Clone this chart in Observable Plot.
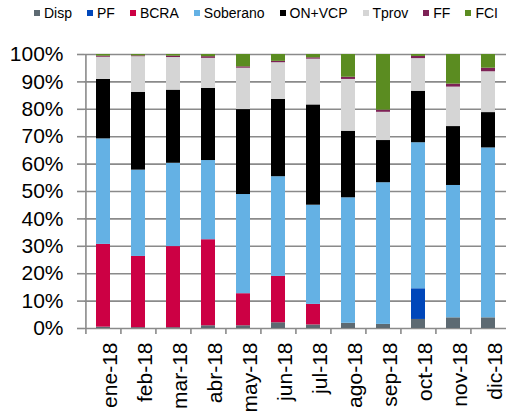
<!DOCTYPE html>
<html>
<head>
<meta charset="utf-8">
<script src="https://cdn.jsdelivr.net/npm/d3@7"></script>
<script src="https://cdn.jsdelivr.net/npm/@observablehq/plot@0.6"></script>
<style>
  html, body { margin: 0; padding: 0; background: #fff; }
  body { width: 506px; height: 419px; overflow: hidden; font-family: "Liberation Sans", Arial, sans-serif; }
  #legend { height: 26px; display: flex; align-items: center; padding-left: 34px; font-size: 14px; color: #000; }
  #legend .item { display: flex; align-items: center; margin-right: 15px; }
  #legend .sw { width: 6px; height: 6px; margin-right: 4px; }
</style>
</head>
<body>
<div id="legend"></div>
<div id="chart"></div>
<script>
const months = ["ene-18","feb-18","mar-18","abr-18","may-18","jun-18","jul-18","ago-18","sep-18","oct-18","nov-18","dic-18"];
const series = ["Disp","PF","BCRA","Soberano","ON+VCP","Tprov","FF","FCI"];
const colors = ["#5d6a72","#0047ba","#cc0044","#64b1e4","#000000","#d5d5d5","#7d2256","#5b8c21"];
// shares (%) per month, one array per series
const Disp     = [0.5, 0.3, 0.3, 1.0, 1.0, 2.1, 1.3, 1.9, 1.5, 3.3, 3.9, 3.9];
const PF       = [0, 0, 0, 0, 0, 0, 0, 0, 0, 11.2, 0, 0];
const BCRA     = [30.2, 26.0, 29.6, 31.4, 11.7, 16.9, 7.5, 0, 0, 0, 0, 0];
const Soberano = [38.5, 31.5, 30.4, 28.9, 36.2, 36.4, 36.2, 45.8, 51.7, 53.3, 48.3, 62.0];
const ONVCP    = [21.7, 28.4, 26.7, 26.3, 31.0, 28.2, 36.6, 24.3, 15.4, 18.8, 21.5, 12.9];
const Tprov    = [8.1, 13.0, 11.9, 11.0, 15.1, 13.4, 16.7, 18.9, 10.3, 11.9, 14.4, 14.9];
const FF       = [0.4, 0.3, 0.5, 0.6, 0.5, 0.5, 0.5, 0.8, 0.8, 0.8, 1.1, 1.3];
const FCI      = [0.6, 0.5, 0.6, 0.8, 4.5, 2.5, 1.2, 8.3, 20.3, 0.7, 10.8, 5.0];
const yTicks = [0,10,20,30,40,50,60,70,80,90,100];

const valuesBySeries = [Disp, PF, BCRA, Soberano, ONVCP, Tprov, FF, FCI];
const data = [];
series.forEach((s, i) => months.forEach((m, j) => data.push({month: m, series: s, value: valuesBySeries[i][j]})));

// legend
const leg = document.getElementById("legend");
series.forEach((s, i) => {
  const it = document.createElement("div"); it.className = "item";
  const sw = document.createElement("div"); sw.className = "sw"; sw.style.background = colors[i];
  const tx = document.createElement("span"); tx.textContent = s;
  it.appendChild(sw); it.appendChild(tx); leg.appendChild(it);
});

const W = 506, H = 393, ML = 84, MR = 0;
const step = (W - ML - MR) / months.length;
const grid = "#8a8a8a";

const chart = Plot.plot({
  width: W, height: H,
  marginLeft: ML, marginRight: MR, marginTop: 28, marginBottom: 91,
  style: {fontFamily: "'Liberation Sans', Arial, sans-serif", color: "#000", background: "#fff"},
  x: {domain: months, paddingInner: 0.6, paddingOuter: 0.3, label: null},
  y: {domain: [0, 100], label: null},
  color: {domain: series, range: colors},
  marks: [
    Plot.ruleY(yTicks, {stroke: grid, strokeWidth: 1.6}),
    Plot.barY(data, {x: "month", y: "value", fill: "series", order: series}),
    Plot.ruleX([months[0]], {y1: 0, y2: 100, dx: -step / 2, stroke: grid, strokeWidth: 1.6}),
    Plot.axisY(yTicks, {tickSize: 7, tickPadding: 14, tickFormat: d => d + "%", fontSize: 21, stroke: grid, strokeWidth: 1.6, label: null}),
    Plot.axisX({tickSize: 6, tickFormat: () => "", dx: -step / 2, stroke: grid, strokeWidth: 1.6, label: null}),
    Plot.axisX({tickSize: 0, tickPadding: 14, rotate: -90, textAnchor: "end", fontSize: 21, dx: -1, label: null})
  ]
});
document.getElementById("chart").appendChild(chart);
</script>
</body>
</html>
